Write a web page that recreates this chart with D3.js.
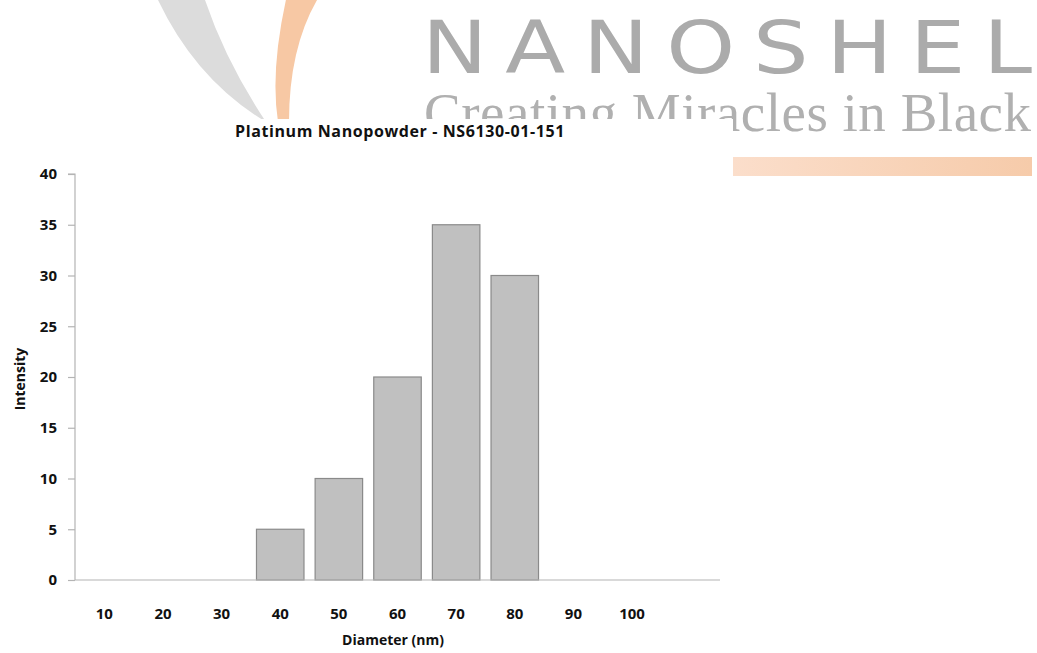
<!DOCTYPE html>
<html><head><meta charset="utf-8">
<script src="https://cdn.jsdelivr.net/npm/d3@7"></script>
<style>
html,body{margin:0;padding:0;background:#fff;}
svg{display:block;}
text{font-family:"Open Sans","Noto Sans",sans-serif;}
</style></head>
<body>
<svg id="chart" width="1037" height="653"></svg>
<script>
const categories = ["10","20","30","40","50","60","70","80","90","100"];
const intensity = [0,0,0,5,10,20,35,30,0,0];
const yTicks = [0,5,10,15,20,25,30,35,40];
const titleText = "Platinum Nanopowder - NS6130-01-151";
const xTitle = "Diameter (nm)";
const yTitle = "Intensity";
const brandName = "NANOSHEL";
const brandTag = "Creating Miracles in Black";

(function(){
const svg = d3.select("#chart");

// ---- watermark / logo background ----
const defs = svg.append("defs");
const grad = defs.append("linearGradient").attr("id","og").attr("x1","0").attr("x2","1");
grad.append("stop").attr("offset","0").attr("stop-color","#fbdecb");
grad.append("stop").attr("offset","1").attr("stop-color","#f6cbaa");

svg.append("path").attr("d","M158,0 Q196,80 266,122 Q226,62 205,0 Z").attr("fill","#dcdcdc");
svg.append("path").attr("d","M287,-5 Q270,70 278,122 L289,122 Q289,45 320,-5 Z").attr("fill","#f7c8a4");
svg.append("text").attr("transform","translate(422,73) scale(1.2,1)")
  .attr("textLength",610/1.2).attr("lengthAdjust","spacing")
  .style("font-family","'DejaVu Sans'").style("font-weight",400).style("font-size","73px")
  .attr("fill","#ababab").text(brandName);
svg.append("text").attr("x",424).attr("y",131).attr("textLength",607).attr("lengthAdjust","spacing")
  .style("font-family","'Liberation Serif','DejaVu Serif',serif").style("font-size","55px")
  .attr("fill","#b0b0b0").text(brandTag);
svg.append("rect").attr("x",732).attr("y",157).attr("width",300).attr("height",19).attr("fill","url(#og)");
// chart area background covering watermark
svg.append("rect").attr("x",0).attr("y",119).attr("width",733).attr("height",534).attr("fill","#fff");

// ---- chart ----
const pLeft = 75, pRight = 720, pTop = 174, pBottom = 580;
const step = (pRight-pLeft)/(categories.length+1);
const x = d3.scaleBand().domain(categories)
  .range([pLeft, pLeft + step*categories.length])
  .paddingInner(0.19).paddingOuter(0.095);
const y = d3.scaleLinear().domain([0,40]).range([pBottom, pTop]);

svg.append("text").attr("x",400).attr("y",137).attr("text-anchor","middle")
  .style("font-weight",700).style("font-size","16px").style("letter-spacing","0.6px")
  .attr("fill","#111").text(titleText);

// y axis
const yAxis = svg.append("g").attr("transform",`translate(${pLeft},0)`)
  .call(d3.axisLeft(y).tickValues(yTicks).tickSize(7).tickPadding(11));
yAxis.selectAll("path,line").attr("stroke","#b4b4b4").attr("stroke-width",1.2);
yAxis.selectAll("text").style("font-family","'Open Sans',sans-serif").style("font-weight",700)
  .style("font-size","15px").attr("fill","#111");
yAxis.select(".domain").attr("d",`M-7,${pTop}H0V${pBottom}`);

// bars
svg.append("g").selectAll("rect").data(intensity.map((v,i)=>({c:categories[i],v})).filter(d=>d.v>0))
  .join("rect")
  .attr("x",d=>x(d.c)).attr("width",x.bandwidth())
  .attr("y",d=>y(d.v)).attr("height",d=>y(0)-y(d.v))
  .attr("fill","#c0c0c0").attr("stroke","#8a8a8a").attr("stroke-width",1.2);

// x axis
svg.append("line").attr("x1",pLeft).attr("x2",pRight).attr("y1",y(0)).attr("y2",y(0))
  .attr("stroke","#b4b4b4").attr("stroke-width",1.2);
const xAxis = svg.append("g").attr("transform",`translate(0,${pBottom})`)
  .call(d3.axisBottom(x).tickSize(0).tickPadding(28));
xAxis.select(".domain").remove();
xAxis.selectAll("text").style("font-family","'Open Sans',sans-serif").style("font-weight",700)
  .style("font-size","15px").attr("fill","#111");

svg.append("text").attr("x",393).attr("y",645).attr("text-anchor","middle")
  .style("font-weight",700).style("font-size","14px").attr("fill","#111").text(xTitle);
svg.append("text").attr("transform","translate(25,379) rotate(-90)").attr("text-anchor","middle")
  .style("font-weight",700).style("font-size","14px").attr("fill","#111").text(yTitle);
})();
</script>
</body></html>
